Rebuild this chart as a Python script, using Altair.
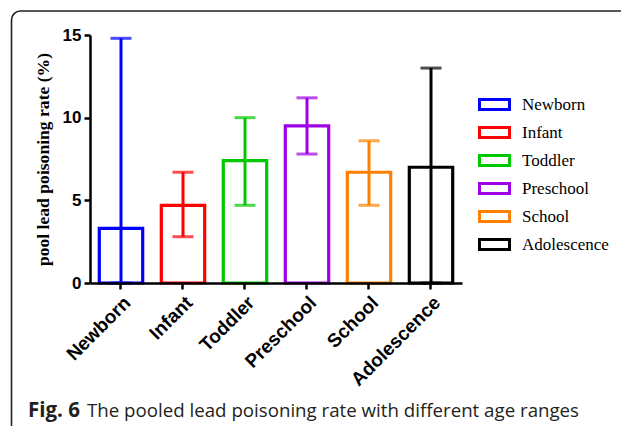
import altair as alt
import pandas as pd

groups = ["Newborn", "Infant", "Toddler", "Preschool", "School", "Adolescence"]
rates = [3.3, 4.7, 7.4, 9.5, 6.7, 7.0]
lower = [0.0, 2.8, 4.7, 7.8, 4.7, 0.0]
upper = [14.8, 6.7, 10.0, 11.2, 8.6, 13.0]
colors = ["#0000FF", "#FF0000", "#00C800", "#A000E6", "#FF8000", "#000000"]
y_ticks = [0, 5, 10, 15]
y_title = "pool lead poisoning rate (%)"
caption_bold = ["Fig. 6"]
caption_rest = ["The pooled lead poisoning rate with different age ranges"]

df = pd.DataFrame({"group": groups, "rate": rates, "lo": lower, "hi": upper})

W, H = 372, 248
L, T = 90, 35

xenc = alt.X("group:N", sort=groups, scale=alt.Scale(paddingInner=0.3, paddingOuter=0.15),
             axis=alt.Axis(title=None, labelAngle=-45, labelFont="Liberation Sans",
                           labelFontWeight="bold", labelFontSize=19, labelColor="black",
                           domainColor="black", domainWidth=2.5, tickColor="black",
                           tickWidth=2.5, tickSize=6, labelPadding=4, zindex=1))
yscale = alt.Scale(domain=[0, 15], nice=False)
color = alt.Color("group:N", sort=groups, scale=alt.Scale(domain=groups, range=colors),
                  legend=alt.Legend(title=None, orient="none", legendX=388, legendY=53,
                                    symbolType="M-1,-0.33H1V0.33H-1Z", symbolSize=900,
                                    symbolStrokeWidth=3, symbolFillColor="white",
                                    labelFont="Liberation Serif", labelFontSize=17,
                                    labelColor="black", labelOffset=11, rowPadding=-1.6,
                                    padding=0))

base = alt.Chart(df)
bars = base.mark_bar(fill="white", strokeWidth=3.2).encode(
    x=xenc,
    y=alt.Y("rate:Q", scale=yscale,
            axis=alt.Axis(values=y_ticks, title=y_title, titleFont="Liberation Serif",
                          titleFontWeight="bold", titleFontSize=17.6, titleColor="black",
                          titlePadding=10, labelFont="Liberation Sans", labelFontWeight="bold",
                          labelFontSize=17, labelColor="black", domainColor="black",
                          domainWidth=2.5, tickColor="black", tickWidth=2.5, tickSize=6,
                          labelPadding=3, grid=False, zindex=1)),
    stroke=color,
)
rule = base.mark_rule(strokeWidth=3).encode(
    x=alt.X("group:N", sort=groups), y=alt.Y("lo:Q"), y2="hi:Q",
    color=alt.Color("group:N", sort=groups, scale=alt.Scale(domain=groups, range=colors), legend=None))
cap_hi = base.mark_tick(thickness=3, size=21).encode(
    x=alt.X("group:N", sort=groups), y="hi:Q",
    color=alt.Color("group:N", sort=groups, scale=alt.Scale(domain=groups, range=colors), legend=None))
cap_lo = base.mark_tick(thickness=3, size=21).encode(
    x=alt.X("group:N", sort=groups), y="lo:Q",
    color=alt.Color("group:N", sort=groups, scale=alt.Scale(domain=groups, range=colors), legend=None))

frame = alt.Chart(pd.DataFrame({"a": [0]})).mark_rect(
    fill=None, filled=False, stroke="#222222", strokeWidth=1.6, cornerRadius=9, clip=False
).encode(x=alt.value(-78.5), x2=alt.value(560), y=alt.value(-24), y2=alt.value(420))

cap1 = alt.Chart(pd.DataFrame({"t": caption_bold})).mark_text(
    font="Open Sans", fontWeight="bold", fontSize=20.5, align="left", baseline="alphabetic",
    color="#231f20", clip=False
).encode(text="t:N", x=alt.value(-62), y=alt.value(382))
cap2 = alt.Chart(pd.DataFrame({"t": caption_rest})).mark_text(
    font="Open Sans", fontSize=18.7, align="left", baseline="alphabetic",
    color="#231f20", clip=False
).encode(text="t:N", x=alt.value(-3), y=alt.value(382))

chart = alt.layer(frame, bars, rule, cap_hi, cap_lo, cap1, cap2).resolve_scale(
    color="independent", stroke="independent"
).properties(
    width=W, height=H, autosize=alt.AutoSizeParams(type="none"),
    padding={"left": L, "top": T, "right": 621 - L - W, "bottom": 426 - T - H},
    background="white",
).configure_view(stroke=None)

chart.save("out.html", embed_options={"renderer": "svg", "actions": False})
